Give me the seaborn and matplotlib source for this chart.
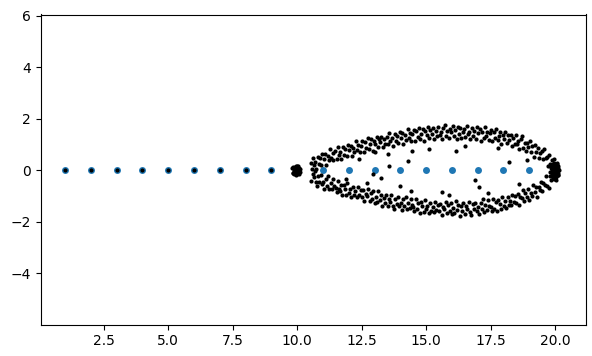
import numpy as np
import pandas as pd
import matplotlib
matplotlib.use("Agg")
import matplotlib.pyplot as plt
import seaborn as sns

# blue reference points
blue_x = list(range(1, 20))
blue_y = [0] * 19

# black points on the axis
line_x = [1, 2, 3, 4, 5, 6, 7, 8, 9]
line_y = [0, 0, 0, 0, 0, 0, 0, 0, 0]

# cluster near x = 10
left_x = [9.86, 9.93, 10.00, 9.90, 10.05, 9.96, 9.83, 10.08, 9.98, 9.89, 10.03, 9.81, 10.11,
          9.96, 9.92, 10.02, 9.87, 9.98, 10.06, 9.85, 10.09, 9.94, 10.00, 9.84, 10.12]
left_y = [0.03, -0.07, 0.06, 0.13, -0.03, 0.16, -0.09, 0.10, -0.14, -0.15, 0.16, 0.07, -0.08,
          0.00, 0.08, -0.10, -0.03, 0.11, 0.03, 0.14, -0.14, -0.17, 0.18, -0.12, 0.05]

# upper band of the ellipse
upper_x = [10.52, 10.58, 10.61, 10.66, 10.70, 10.74, 10.79, 10.83, 10.88, 10.93, 10.97, 11.03, 11.08,
           11.12, 11.18, 11.22, 11.27, 11.33, 11.38, 11.41, 11.47, 11.53, 11.57, 11.62, 11.68, 11.71,
           11.77, 11.83, 11.86, 11.92, 11.98, 12.03, 12.07, 12.13, 12.18, 12.22, 12.28, 12.34, 12.37,
           12.43, 12.48, 12.53, 12.58, 12.63, 12.67, 12.73, 12.78, 12.82, 12.88, 12.93, 12.97, 13.03,
           13.08, 13.12, 13.17, 13.23, 13.27, 13.33, 13.38, 13.42, 13.48, 13.53, 13.57, 13.62, 13.68,
           13.72, 13.78, 13.83, 13.87, 13.92, 13.98, 14.03, 14.07, 14.12, 14.18, 14.22, 14.28, 14.33,
           14.37, 14.43, 14.47, 14.52, 14.58, 14.62, 14.67, 14.72, 14.78, 14.82, 14.87, 14.93, 14.97,
           15.02, 15.08, 15.12, 15.17, 15.22, 15.28, 15.32, 15.37, 15.43, 15.47, 15.52, 15.58, 15.62,
           15.67, 15.73, 15.77, 15.82, 15.88, 15.92, 15.97, 16.03, 16.07, 16.12, 16.18, 16.22, 16.27,
           16.33, 16.37, 16.42, 16.48, 16.52, 16.57, 16.63, 16.67, 16.72, 16.78, 16.82, 16.87, 16.93,
           16.97, 17.02, 17.08, 17.12, 17.17, 17.23, 17.27, 17.32, 17.38, 17.42, 17.47, 17.53, 17.57,
           17.62, 17.68, 17.72, 17.77, 17.83, 17.87, 17.92, 17.98, 18.02, 18.07, 18.13, 18.17, 18.22,
           18.28, 18.32, 18.37, 18.43, 18.47, 18.52, 18.58, 18.62, 18.67, 18.73, 18.77, 18.82, 18.88,
           18.92, 18.97, 19.03, 19.07, 19.12, 19.18, 19.22, 19.27, 19.33, 19.37, 19.42, 19.48, 19.52,
           19.57, 19.63, 19.67, 19.72, 19.78, 19.82, 19.87, 19.92, 19.97, 20.02, 20.07, 20.11]
upper_y = [0.28, 0.03, 0.48, 0.21, 0.31, 0.05, 0.52, 0.24, 0.47, 0.19, 0.65, 0.44, 0.63,
           0.22, 0.57, 0.38, 0.82, 0.49, 0.68, 0.39, 0.73, 0.45, 0.89, 0.61, 0.70, 0.43,
           0.89, 0.61, 0.82, 0.54, 0.99, 0.77, 0.95, 0.54, 0.88, 0.69, 1.13, 0.79, 0.98,
           0.70, 0.96, 1.13, 0.70, 1.09, 0.86, 1.24, 0.83, 1.00, 1.21, 0.76, 1.13, 1.00,
           1.30, 0.89, 1.23, 1.08, 1.30, 0.91, 1.22, 1.03, 1.30, 1.01, 1.44, 1.15, 1.24,
           0.96, 1.42, 1.13, 1.33, 1.04, 1.50, 1.26, 1.44, 1.02, 1.36, 1.16, 1.59, 1.25,
           1.44, 1.15, 1.41, 1.56, 1.13, 1.51, 1.28, 1.65, 1.23, 1.40, 1.59, 1.14, 1.51,
           1.36, 1.66, 1.24, 1.57, 1.42, 1.62, 1.22, 1.53, 1.33, 1.68, 1.38, 1.50, 1.22,
           1.64, 1.76, 1.34, 1.54, 1.27, 1.60, 1.48, 1.73, 1.32, 1.58, 1.20, 1.67, 1.42,
           1.62, 1.24, 1.49, 1.60, 1.30, 1.73, 1.42, 1.49, 1.21, 1.65, 1.34, 1.54, 1.23,
           1.67, 1.43, 1.59, 1.15, 1.48, 1.27, 1.69, 1.33, 1.50, 1.19, 1.43, 1.57, 1.13,
           1.50, 1.24, 1.60, 1.17, 1.31, 1.50, 1.03, 1.37, 1.21, 1.49, 1.05, 1.36, 1.19,
           1.37, 0.96, 1.24, 1.02, 1.35, 1.03, 1.13, 0.83, 1.22, 1.32, 0.88, 1.06, 0.76,
           1.07, 0.92, 1.14, 0.71, 0.94, 0.53, 0.98, 0.70, 0.86, 0.46, 0.68, 0.75, 0.42,
           0.81, 0.47, 0.50, 0.18, 0.58, 0.24, 0.39, 0.05, 0.44, 0.15, 0.28, -0.19]

# lower band of the ellipse
lower_x = [10.55, 10.61, 10.64, 10.69, 10.73, 10.77, 10.82, 10.86, 10.91, 10.96, 11.00, 11.06, 11.11,
           11.15, 11.21, 11.25, 11.30, 11.36, 11.41, 11.44, 11.50, 11.56, 11.60, 11.65, 11.71, 11.74,
           11.80, 11.86, 11.89, 11.95, 12.01, 12.06, 12.10, 12.16, 12.21, 12.25, 12.31, 12.37, 12.40,
           12.46, 12.51, 12.56, 12.61, 12.66, 12.70, 12.76, 12.81, 12.85, 12.91, 12.96, 13.00, 13.06,
           13.11, 13.15, 13.20, 13.26, 13.30, 13.36, 13.41, 13.45, 13.51, 13.56, 13.60, 13.65, 13.71,
           13.75, 13.81, 13.86, 13.90, 13.95, 14.01, 14.06, 14.10, 14.15, 14.21, 14.25, 14.31, 14.36,
           14.40, 14.46, 14.50, 14.55, 14.61, 14.65, 14.70, 14.75, 14.81, 14.85, 14.90, 14.96, 15.00,
           15.05, 15.11, 15.15, 15.20, 15.25, 15.31, 15.35, 15.40, 15.46, 15.50, 15.55, 15.61, 15.65,
           15.70, 15.76, 15.80, 15.85, 15.91, 15.95, 16.00, 16.06, 16.10, 16.15, 16.21, 16.25, 16.30,
           16.36, 16.40, 16.45, 16.51, 16.55, 16.60, 16.66, 16.70, 16.75, 16.81, 16.85, 16.90, 16.96,
           17.00, 17.05, 17.11, 17.15, 17.20, 17.26, 17.30, 17.35, 17.41, 17.45, 17.50, 17.56, 17.60,
           17.65, 17.71, 17.75, 17.80, 17.86, 17.90, 17.95, 18.01, 18.05, 18.10, 18.16, 18.20, 18.25,
           18.31, 18.35, 18.40, 18.46, 18.50, 18.55, 18.61, 18.65, 18.70, 18.76, 18.80, 18.85, 18.91,
           18.95, 19.00, 19.06, 19.10, 19.15, 19.21, 19.25, 19.30, 19.36, 19.40, 19.45, 19.51, 19.55,
           19.60, 19.66, 19.70, 19.75, 19.81, 19.85, 19.90, 19.95, 20.00, 20.05, 20.09, 20.13]
lower_y = [-0.40, -0.14, -0.28, -0.03, -0.47, -0.61, -0.22, -0.44, -0.19, -0.54, -0.44, -0.71, -0.32,
           -0.60, -0.24, -0.72, -0.49, -0.71, -0.35, -0.61, -0.67, -0.84, -0.41, -0.81, -0.59, -0.96,
           -0.56, -0.74, -0.94, -0.49, -0.87, -0.74, -1.04, -0.63, -0.97, -0.82, -1.03, -0.65, -0.96,
           -0.78, -1.04, -0.75, -1.20, -0.91, -0.99, -0.72, -1.18, -0.89, -1.11, -0.82, -1.27, -1.05,
           -1.23, -0.81, -1.15, -0.97, -1.40, -1.06, -1.26, -0.97, -1.39, -1.10, -1.23, -0.96, -1.38,
           -1.51, -1.10, -1.31, -1.05, -1.38, -1.27, -1.53, -1.13, -1.39, -1.02, -1.50, -1.26, -1.47,
           -1.10, -1.36, -1.41, -1.57, -1.13, -1.52, -1.28, -1.65, -1.24, -1.40, -1.60, -1.14, -1.51,
           -1.37, -1.66, -1.25, -1.57, -1.42, -1.62, -1.23, -1.53, -1.34, -1.59, -1.29, -1.72, -1.43,
           -1.50, -1.22, -1.66, -1.36, -1.57, -1.27, -1.71, -1.47, -1.64, -1.21, -1.54, -1.34, -1.76,
           -1.40, -1.58, -1.28, -1.69, -1.39, -1.50, -1.22, -1.63, -1.75, -1.32, -1.52, -1.25, -1.56,
           -1.44, -1.68, -1.26, -1.52, -1.13, -1.60, -1.34, -1.54, -1.16, -1.40, -1.43, -1.57, -1.12,
           -1.49, -1.24, -1.59, -1.16, -1.31, -1.49, -1.02, -1.37, -1.20, -1.48, -1.04, -1.35, -1.18,
           -1.36, -0.95, -1.23, -1.01, -1.25, -0.93, -1.34, -1.02, -1.07, -0.77, -1.19, -0.87, -1.04,
           -0.72, -1.14, -0.87, -1.01, -0.56, -0.85, -0.63, -1.02, -0.63, -0.78, -0.45, -0.82, -0.49,
           -0.57, -0.24, -0.62, -0.70, -0.23, -0.39, -0.08, -0.35, -0.18, -0.39, 0.06, -0.17]

# scattered points inside the ellipse
inner_x = [12.94, 13.26, 13.58, 13.51, 14.29, 14.42, 14.47, 15.13, 16.17, 16.88, 17.07, 11.90, 11.64,
           18.23, 12.40, 15.60, 17.80, 18.60, 14.00, 16.50, 13.00, 15.90, 18.90, 12.70, 17.40]
inner_y = [-0.14, -0.29, 0.18, 0.63, 0.37, -0.79, 0.76, 0.83, 0.76, -0.36, -0.66, -0.34, -0.73,
           0.31, 0.45, -0.85, 0.85, -0.55, -0.62, 0.95, 0.70, -0.95, 0.40, -0.50, -0.88]

# cluster near x = 20
right_x = [19.85, 19.90, 19.95, 20.00, 20.05, 20.10, 19.88, 19.93, 19.98, 20.03, 20.08, 20.13, 19.80,
           19.96, 20.01, 20.06, 19.92, 19.87, 20.11, 19.99, 20.04, 19.83, 19.94, 20.09, 20.15, 19.97,
           20.02, 19.91, 20.07, 19.89]
right_y = [0.10, -0.15, 0.20, -0.05, 0.12, -0.10, 0.00, 0.05, -0.20, 0.22, 0.02, 0.08, -0.05,
           0.12, 0.00, -0.18, 0.25, -0.22, 0.18, 0.08, -0.12, 0.18, -0.08, -0.02, 0.00, 0.28,
           -0.28, -0.30, 0.26, 0.16]

black_x = line_x + left_x + upper_x + lower_x + inner_x + right_x
black_y = line_y + left_y + upper_y + lower_y + inner_y + right_y

blue_df = pd.DataFrame({"x": blue_x, "y": blue_y})
black_df = pd.DataFrame({"x": black_x, "y": black_y})

fig = plt.figure(figsize=(5.92, 3.56), dpi=100)
ax = fig.add_axes([40.5 / 592, 31.5 / 356, 545.5 / 592, 310 / 356])

sns.scatterplot(data=blue_df, x="x", y="y", ax=ax, color="#1f77b4", s=25, linewidth=0, zorder=2)
sns.scatterplot(data=black_df, x="x", y="y", ax=ax, color="black", s=9, linewidth=0, zorder=3)

ax.set_xlim(0.05, 21.2)
ax.set_ylim(-5.98, 6.04)
ax.set_xlabel("")
ax.set_ylabel("")

fig.savefig("out.png", dpi=100)
